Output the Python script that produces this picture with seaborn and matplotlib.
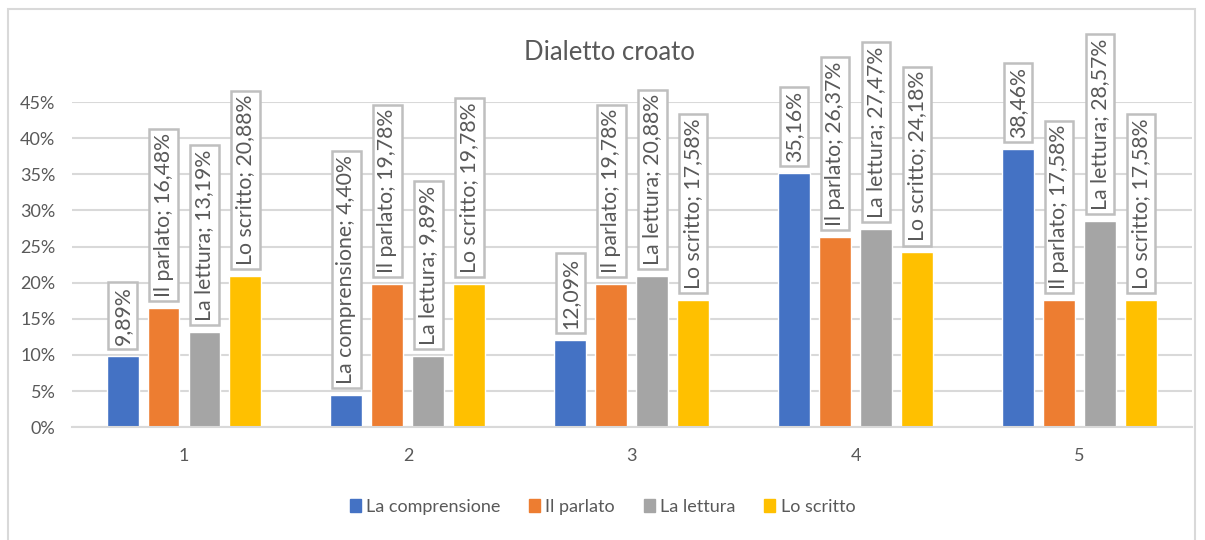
import pandas as pd
import numpy as np
import matplotlib.pyplot as plt
import matplotlib.patches as mpatches
import seaborn as sns

# chart data
categories = ['1', '2', '3', '4', '5']
series = ['La comprensione', 'Il parlato', 'La lettura', 'Lo scritto']
comprensione = [9.89, 4.40, 12.09, 35.16, 38.46]
parlato = [16.48, 19.78, 19.78, 26.37, 17.58]
lettura = [13.19, 9.89, 20.88, 27.47, 28.57]
scritto = [20.88, 19.78, 17.58, 24.18, 17.58]
# which data labels carry the series name as well as the value
show_name = {
    'La comprensione': [False, True, False, False, False],
    'Il parlato': [True] * 5,
    'La lettura': [True] * 5,
    'Lo scritto': [True] * 5,
}
colors = ['#4472C4', '#ED7D31', '#A5A5A5', '#FFC000']
yticks = [0, 5, 10, 15, 20, 25, 30, 35, 40, 45]

values = {'La comprensione': comprensione, 'Il parlato': parlato,
          'La lettura': lettura, 'Lo scritto': scritto}
df = pd.DataFrame([(c, s, values[s][i]) for s in series for i, c in enumerate(categories)],
                  columns=['cat', 'series', 'val'])

sns.set_style('white')
plt.rcParams['font.family'] = ['Lato', 'DejaVu Sans']
txt = '#595959'

fig = plt.figure(figsize=(12.05, 5.4), dpi=100)
ax = fig.add_axes([0.0598, 0.209, 0.929, 0.602])

sns.barplot(data=df, x='cat', y='val', hue='series', order=categories, hue_order=series,
            palette=colors, saturation=1, width=0.732, gap=0.22, legend=False, ax=ax)

ax.set_ylim(0, 45)
ax.set_yticks(yticks)
ax.set_yticklabels([f'{t}%' for t in yticks])
ax.yaxis.grid(True, color='#d9d9d9', lw=1.5)
ax.set_axisbelow(True)
for s in ['top', 'right', 'left']:
    ax.spines[s].set_visible(False)
ax.spines['bottom'].set_color('#d9d9d9')
ax.spines['bottom'].set_linewidth(1.5)
ax.tick_params(axis='y', length=0, pad=12, labelsize=13, labelcolor=txt)
ax.tick_params(axis='x', length=0, pad=15, labelsize=13, labelcolor=txt)
ax.set_xlabel('')
ax.set_ylabel('')

# boxed, rotated data labels
for cont, name in zip(ax.containers, series):
    for i, bar in enumerate(cont):
        v = values[name][i]
        s = f'{v:.2f}%'.replace('.', ',')
        if show_name[name][i]:
            s = f'{name}; {s}'
        ax.annotate(s, (bar.get_x() + bar.get_width() / 2, bar.get_height()),
                    xytext=(0, 8), textcoords='offset points', rotation=90,
                    ha='center', va='bottom', fontsize=15.3, color=txt,
                    bbox=dict(boxstyle='square,pad=0.2', fc='white', ec='#bfbfbf', lw=1.8),
                    annotation_clip=False)

fig.text(0.506, 0.903, 'Dialetto croato', ha='center', va='center', fontsize=18.5, color=txt)

handles = [mpatches.Patch(color=c, label=s) for c, s in zip(colors, series)]
fig.legend(handles=handles, loc='center', bbox_to_anchor=(0.5, 0.061), ncol=4, frameon=False,
           handlelength=0.6, handleheight=0.7, handletextpad=0.3, columnspacing=1.6,
           fontsize=13, labelcolor=txt)

# outer chart border
fig.patches.append(mpatches.Rectangle((8 / 1205, -0.01), 1187 / 1205, 1 - 9 / 540 + 0.01,
                                      transform=fig.transFigure, fill=False,
                                      ec='#d9d9d9', lw=1.5))

fig.savefig('out.png', dpi=100)
